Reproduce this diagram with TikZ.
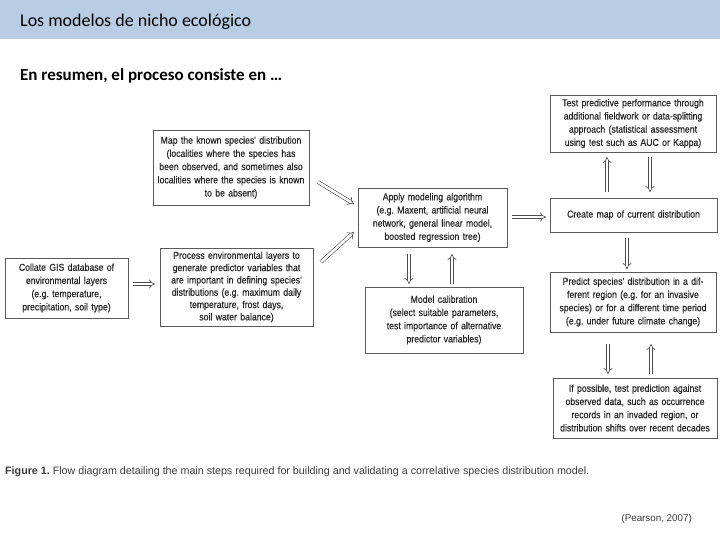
\documentclass[tikz,border=0pt]{standalone}
\usepackage{fontspec}
\setmainfont{Liberation Sans}
\newfontfamily\calibri{Carlito}
\newfontfamily\boxfont[FakeStretch=0.87,FakeBold=0.4]{Liberation Sans}
\usetikzlibrary{arrows.meta}
\definecolor{band}{RGB}{184,204,228}
\definecolor{boxline}{RGB}{90,90,90}
\definecolor{captxt}{RGB}{60,60,60}
\frenchspacing
\tikzset{
  box/.style={draw=boxline, line width=0.8pt, fill=white, align=center,
    inner xsep=3pt, inner ysep=2pt, font=\boxfont\fontsize{10}{13.2}\selectfont, text=black!85},
  dbl/.style={draw=black!70, line width=0.6pt, double=white, double distance=2.6pt, -{Implies}},
}
\begin{document}
\begin{tikzpicture}[x=1pt,y=-1pt]
\useasboundingbox (0,0) rectangle (720,540);
\fill[white] (0,0) rectangle (720,540);
\fill[band] (0,0) rectangle (720,39);
\node[anchor=base west, inner sep=0, font=\calibri\fontsize{18}{20}\selectfont] (title) at (20,27) {Los modelos de nicho ecológico};
\node[anchor=base west, inner sep=0, font=\calibri\bfseries\fontsize{17}{20}\selectfont] (sub) at (20,81) {En resumen, el proceso consiste en …};

\node[box, minimum width=156pt, minimum height=75pt, text width=150pt] (map) at (231,167.5)
  {Map the known species' distribution\\(localities where the species has\\been observed, and sometimes also\\localities where the species is known\\to be absent)};
\node[box, minimum width=123pt, minimum height=60pt, text width=117pt] (collate) at (66.5,288)
  {Collate GIS database of\\environmental layers\\(e.g. temperature,\\precipitation, soil type)};
\node[box, minimum width=153pt, minimum height=78pt, text width=147pt, font=\boxfont\fontsize{10}{12.3}\selectfont] (process) at (236.5,287)
  {Process environmental layers to\\generate predictor variables that\\are important in defining species'\\distributions (e.g. maximum daily\\temperature, frost days,\\soil water balance)};
\node[box, minimum width=149pt, minimum height=59pt, text width=143pt] (apply) at (432.5,217.5)
  {Apply modeling algorithm\\(e.g. Maxent, artificial neural\\network, general linear model,\\boosted regression tree)};
\node[box, minimum width=158pt, minimum height=66pt, text width=152pt] (calib) at (444,320)
  {Model calibration\\(select suitable parameters,\\test importance of alternative\\predictor variables)};
\node[box, minimum width=166pt, minimum height=57pt, text width=160pt] (test) at (633,123.5)
  {Test predictive performance through\\additional fieldwork or data-splitting\\approach (statistical assessment\\using test such as AUC or Kappa)};
\node[box, minimum width=167pt, minimum height=34pt, text width=161pt] (create) at (633.5,215)
  {Create map of current distribution};
\node[box, minimum width=166pt, minimum height=60pt, text width=160pt] (predict) at (633,302)
  {Predict species' distribution in a dif-\\ferent region (e.g. for an invasive\\species) or for a different time period\\(e.g. under future climate change)};
\node[box, minimum width=164pt, minimum height=60pt, text width=158pt] (ifpos) at (635,408)
  {If possible, test prediction against\\observed data, such as occurrence\\records in an invaded region, or\\distribution shifts over recent decades};

% arrow end points
\coordinate (c1a) at (133,284); \coordinate (c1b) at (155,284);
\coordinate (c2a) at (318,182); \coordinate (c2b) at (354,204);
\coordinate (c3a) at (321,262); \coordinate (c3b) at (354,232);
\coordinate (c4a) at (512,217); \coordinate (c4b) at (546,217);
\coordinate (c5a) at (607,192); \coordinate (c5b) at (607,157);
\coordinate (c6a) at (650,157); \coordinate (c6b) at (650,192);
\coordinate (c7a) at (627,238); \coordinate (c7b) at (627,269);
\coordinate (c8a) at (409,254); \coordinate (c8b) at (409,284);
\coordinate (c9a) at (452,284); \coordinate (c9b) at (452,254);
\coordinate (c10a) at (608,344); \coordinate (c10b) at (608,374);
\coordinate (c11a) at (651,374); \coordinate (c11b) at (651,344);
\draw[dbl] (c1a) -- (c1b);
\draw[dbl] (c2a) -- (c2b);
\draw[dbl] (c3a) -- (c3b);
\draw[dbl] (c4a) -- (c4b);
\draw[dbl] (c5a) -- (c5b);
\draw[dbl] (c6a) -- (c6b);
\draw[dbl] (c7a) -- (c7b);
\draw[dbl] (c8a) -- (c8b);
\draw[dbl] (c9a) -- (c9b);
\draw[dbl] (c10a) -- (c10b);
\draw[dbl] (c11a) -- (c11b);

\node[anchor=base west, inner sep=0, text=captxt, font=\fontsize{10.7}{12}\selectfont] (cap) at (5,474)
  {\textbf{Figure 1.} Flow diagram detailing the main steps required for building and validating a correlative species distribution model.};
\node[anchor=base east, inner sep=0, text=captxt, font=\fontsize{9.8}{11}\selectfont] (ref) at (692,521) {(Pearson, 2007)};
\end{tikzpicture}
\end{document}
